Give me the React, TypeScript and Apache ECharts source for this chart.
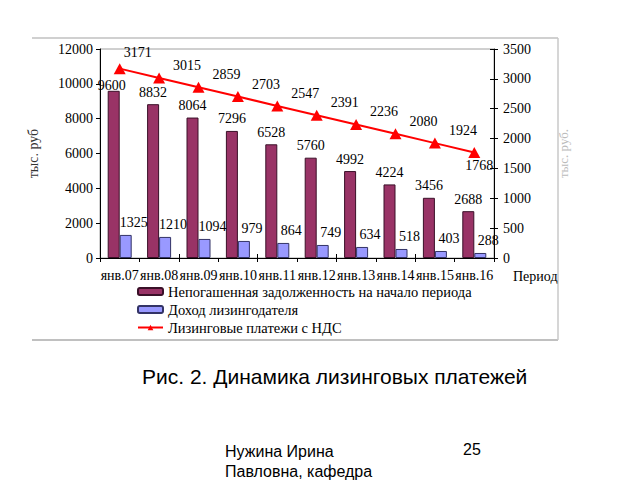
import React, { useEffect, useRef } from 'react';
import * as echarts from 'echarts';

const categories = ['янв.07', 'янв.08', 'янв.09', 'янв.10', 'янв.11', 'янв.12', 'янв.13', 'янв.14', 'янв.15', 'янв.16'];
const debtValues = [9600, 8832, 8064, 7296, 6528, 5760, 4992, 4224, 3456, 2688];
const incomeValues = [1325, 1210, 1094, 979, 864, 749, 634, 518, 403, 288];
const paymentValues = [3171, 3015, 2859, 2703, 2547, 2391, 2236, 2080, 1924, 1768];
const seriesNames = [
  'Непогашенная задолженность на начало периода',
  'Доход лизингодателя',
  'Лизинговые платежи с НДС',
];
const leftAxis = { min: 0, max: 12000, interval: 2000 };
const rightAxis = { min: 0, max: 3500, interval: 500 };
const axisTitle = 'тыс. руб';
const axisTitleRight = 'тыс. руб.';
const xAxisTitle = 'Период';
const caption = 'Рис. 2. Динамика лизинговых платежей';
const footerLines = ['Нужина Ирина', 'Павловна, кафедра'];
const pageNumber = '25';

const SERIF = "'Liberation Serif', 'Times New Roman', serif";
const SANS = "'Liberation Sans', Arial, sans-serif";

export default function App() {
  const ref = useRef<HTMLDivElement>(null);
  useEffect(() => {
    if (!ref.current) return;
    const chart = echarts.init(ref.current, null, { renderer: 'svg' });
    const grid = { left: 100, right: 146, top: 49, bottom: 222 };
    const plain = (v: number) => String(v);
    const debtData = debtValues.map((v, i) =>
      i === 0 ? { value: v, label: { offset: [-2, 7] } } : v
    );
    const lineData = paymentValues.map((v, i) => {
      if (i === 0) return { value: v, label: { offset: [18, 0] } };
      if (i === paymentValues.length - 1)
        return { value: v, label: { position: 'bottom', offset: [5, -3] } };
      return v;
    });
    chart.setOption({
      animation: false,
      textStyle: { fontFamily: SERIF },
      grid: [
        { ...grid, show: true, borderColor: '#a0a0a0', borderWidth: 1, backgroundColor: 'transparent' },
        { ...grid, show: false },
      ],
      legend: {
        orient: 'vertical',
        left: 137,
        top: 284,
        padding: 0,
        itemWidth: 25,
        itemHeight: 7,
        itemGap: 3,
        textStyle: { fontFamily: SERIF, fontSize: 14.5, color: '#000' },
        data: seriesNames,
      },
      xAxis: [
        {
          type: 'category',
          gridIndex: 0,
          data: categories,
          position: 'bottom',
          axisLine: { lineStyle: { color: '#000', width: 1 } },
          axisTick: { show: true, inside: false, length: 4, lineStyle: { color: '#000' } },
          axisLabel: { interval: 0, margin: 10, fontFamily: SERIF, fontSize: 14, color: '#000' },
        },
        {
          type: 'category',
          gridIndex: 1,
          data: categories,
          position: 'bottom',
          axisLine: { show: false },
          axisTick: { show: true, inside: true, length: 4, lineStyle: { color: '#000' } },
          axisLabel: { show: false },
        },
      ],
      yAxis: [
        {
          type: 'value',
          gridIndex: 0,
          position: 'left',
          ...leftAxis,
          axisLine: { show: true, lineStyle: { color: '#000' } },
          axisTick: { show: true, length: 4, lineStyle: { color: '#000' } },
          splitLine: { show: false },
          axisLabel: { margin: 7, formatter: plain, fontFamily: SERIF, fontSize: 14, color: '#000' },
          name: axisTitle,
          nameLocation: 'middle',
          nameRotate: 90,
          nameGap: 60,
          nameTextStyle: { fontFamily: SERIF, fontSize: 14, color: '#333' },
        },
        {
          type: 'value',
          gridIndex: 0,
          position: 'right',
          ...rightAxis,
          axisLine: { show: true, lineStyle: { color: '#000' } },
          axisTick: { show: true, length: 4, lineStyle: { color: '#000' } },
          splitLine: { show: false },
          axisLabel: { margin: 9, formatter: plain, fontFamily: SERIF, fontSize: 14, color: '#000' },
          name: axisTitleRight,
          nameLocation: 'middle',
          nameRotate: 90,
          nameGap: 63,
          nameTextStyle: { fontFamily: SERIF, fontSize: 13, color: '#bbb' },
        },
        {
          type: 'value',
          gridIndex: 1,
          position: 'right',
          ...rightAxis,
          axisLine: { show: false },
          axisTick: { show: true, inside: true, length: 4, lineStyle: { color: '#000' } },
          splitLine: { show: false },
          axisLabel: { show: false },
        },
      ],
      series: [
        {
          name: seriesNames[0],
          type: 'bar',
          xAxisIndex: 0,
          yAxisIndex: 0,
          data: debtData,
          barWidth: 12,
          barGap: '0%',
          itemStyle: { color: '#993366', borderColor: '#3a1028', borderWidth: 1 },
          label: { show: true, position: 'top', distance: 5, fontFamily: SERIF, fontSize: 14, color: '#000' },
        },
        {
          name: seriesNames[1],
          type: 'bar',
          xAxisIndex: 0,
          yAxisIndex: 0,
          data: incomeValues,
          barWidth: 12,
          barGap: '0%',
          itemStyle: { color: '#9999ff', borderColor: '#333366', borderWidth: 1 },
          label: { show: true, position: 'top', distance: 5, offset: [8, 0], fontFamily: SERIF, fontSize: 14, color: '#000' },
        },
        {
          name: seriesNames[2],
          type: 'line',
          xAxisIndex: 0,
          yAxisIndex: 1,
          data: lineData,
          symbol: 'triangle',
          symbolSize: [12, 11],
          lineStyle: { color: '#ff0000', width: 2 },
          itemStyle: { color: '#ff0000' },
          label: { show: true, position: 'top', distance: 4, offset: [28, 4], fontFamily: SERIF, fontSize: 14, color: '#000' },
        },
      ],
      graphic: [
        { type: 'line', shape: { x1: 32, y1: 38, x2: 558, y2: 38 }, style: { stroke: '#c0c0c0', lineWidth: 1.5 } },
        { type: 'line', shape: { x1: 32, y1: 340, x2: 558, y2: 340 }, style: { stroke: '#c0c0c0', lineWidth: 2 } },
        { type: 'line', shape: { x1: 558, y1: 38, x2: 558, y2: 340 }, style: { stroke: '#c8c8c8', lineWidth: 1.5 } },
        {
          type: 'text', left: 513, top: 269,
          style: { text: xAxisTitle, font: `14px ${SERIF}`, fill: '#000' },
        },
        {
          type: 'text', left: 142, top: 366,
          style: { text: caption, font: `21px ${SANS}`, fill: '#000' },
        },
        {
          type: 'text', left: 225, top: 441,
          style: { text: footerLines.join('\n'), font: `16px ${SANS}`, lineHeight: 20, fill: '#000' },
        },
        {
          type: 'text', left: 463, top: 441,
          style: { text: pageNumber, font: `16px ${SANS}`, fill: '#000' },
        },
      ],
    });
    return () => chart.dispose();
  }, []);
  return <div ref={ref} style={{ position: 'absolute', left: 0, top: 0, width: 640, height: 480 }} />;
}
